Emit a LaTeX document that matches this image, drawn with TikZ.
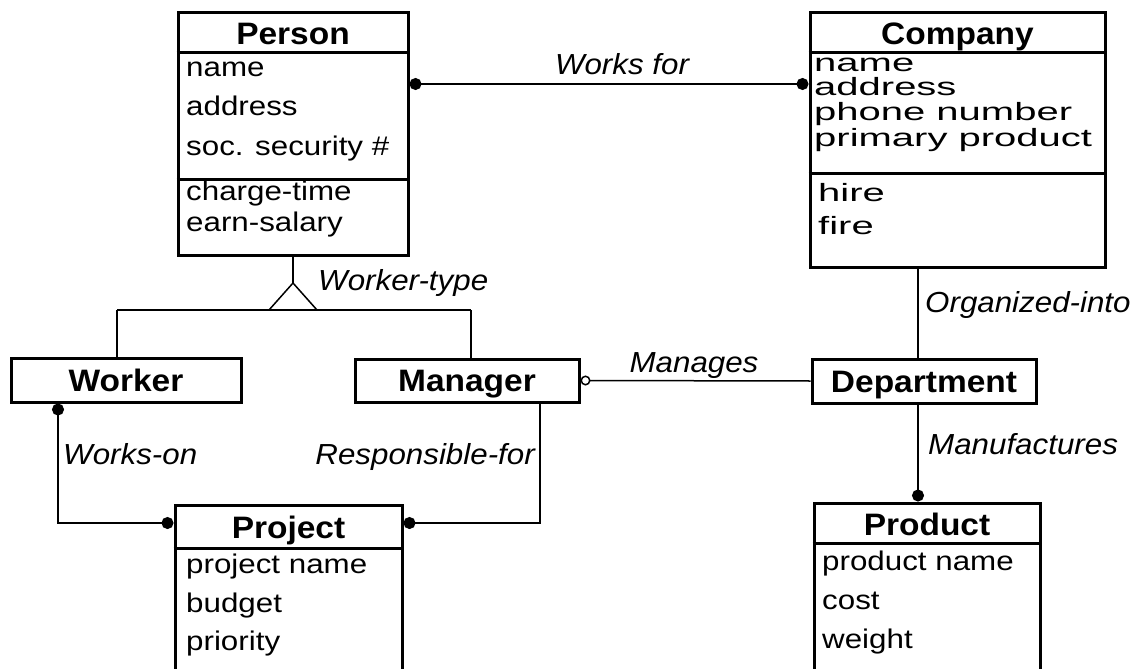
\documentclass[tikz,border=0pt]{standalone}
\usepackage{fontspec}
\setmainfont{Liberation Sans}
\newfontfamily\attrf{Liberation Sans}[FakeStretch=1.16]
\newfontfamily\lblf{Liberation Sans}[FakeStretch=1.08]
\newfontfamily\compf{Liberation Sans}[FakeStretch=1.6]
\usetikzlibrary{arrows.meta}
\tikzset{
  fdot/.tip={Circle[length=12pt, width=12pt]},
  odot/.tip={Circle[open, length=10pt, width=10pt]},
}
\begin{document}
\begin{tikzpicture}[x=1pt,y=-1pt,
  box/.style={draw, line width=3pt, inner sep=0pt},
  divline/.style={line width=3pt},
  titletxt/.style={font=\lblf\bfseries\fontsize{31}{36}\selectfont, anchor=base, inner sep=0pt},
  attr/.style={font=\attrf\fontsize{27}{32}\selectfont, anchor=mid west, inner sep=0pt},
  cattr/.style={font=\compf\fontsize{25}{28}\selectfont, anchor=mid west, inner sep=0pt},
  lbl/.style={font=\lblf\itshape\fontsize{29}{34}\selectfont, inner sep=0pt},
  conn/.style={line width=1.5pt},
]
\useasboundingbox (0,0) rectangle (1143,669);
\clip (0,0) rectangle (1143,669);
\fill[white] (0,0) rectangle (1143,669);

% ---------- boxes ----------
\node[box, minimum width=230pt, minimum height=242pt] (person) at (293,134) {};
\node[box, minimum width=295pt, minimum height=254pt] (company) at (957.5,140) {};
\node[box, minimum width=230pt, minimum height=44pt] (worker) at (126,380) {};
\node[box, minimum width=224pt, minimum height=43pt] (manager) at (467,380.5) {};
\node[box, minimum width=224pt, minimum height=44pt] (dept) at (924,381) {};
\node[box, minimum width=227pt, minimum height=195pt] (project) at (288.5,602.5) {};
\node[box, minimum width=226pt, minimum height=197pt] (product) at (927,601.5) {};

% ---------- dividers ----------
\coordinate (pd1) at (0,53);
\coordinate (pd2) at (0,179);
\coordinate (cd2) at (0,173);
\coordinate (jd1) at (0,548);
\coordinate (rd1) at (0,543);
\draw[divline] (person.west |- pd1) -- (person.east |- pd1);
\draw[divline] (person.west |- pd2) -- (person.east |- pd2);
\draw[divline] (company.west |- pd1) -- (company.east |- pd1);
\draw[divline] (company.west |- cd2) -- (company.east |- cd2);
\draw[divline] (project.west |- jd1) -- (project.east |- jd1);
\draw[divline] (product.west |- rd1) -- (product.east |- rd1);

% ---------- titles ----------
\node[titletxt] (tperson) at (293,45) {Person};
\node[titletxt] (tcompany) at (957.5,45) {Company};
\node[titletxt] (tworker) at (126,391) {Worker};
\node[titletxt] (tmanager) at (467,391) {Manager};
\node[titletxt] (tdept) at (924,392) {Department};
\node[titletxt] (tproject) at (288.5,538) {Project};
\node[titletxt] (tproduct) at (927,535) {Product};

% ---------- attributes ----------
\node[attr] (pa1) at (186,74) {name};
\node[attr] (pa2) at (186,113) {address};
\node[attr] (pa3) at (186,153) {soc. security \#};
\node[attr] (po1) at (186,198) {charge-time};
\node[attr] (po2) at (186,229) {earn-salary};

\node[cattr] (ca1) at (814,69) {name};
\node[cattr] (ca2) at (814,93) {address};
\node[cattr] (ca3) at (814,118) {phone number};
\node[cattr] (ca4) at (814,144) {primary product};
\node[cattr] (co1) at (818,199) {hire};
\node[cattr] (co2) at (818,232) {fire};

\node[attr] (ja1) at (186,571) {project name};
\node[attr] (ja2) at (186,610) {budget};
\node[attr] (ja3) at (186,648) {priority};

\node[attr] (ra1) at (822,568) {product name};
\node[attr] (ra2) at (822,607) {cost};
\node[attr] (ra3) at (822,646) {weight};

% ---------- connectors ----------
\coordinate (wf) at (0,84);
\draw[conn, fdot-fdot] (person.east |- wf) -- (company.west |- wf);
\node[lbl] (lwf) at (622,64) {Works for};

% generalization
\coordinate (apex) at (293,283);
\coordinate (tb1) at (269,310);
\coordinate (tb2) at (317,310);
\coordinate (hl) at (117,310);
\coordinate (hr) at (471,310);
\draw[conn] (person.south) -- (apex);
\draw[conn] (tb1) -- (apex) -- (tb2);
\draw[conn] (hl) -- (hr);
\draw[conn] (hl) -- (hl |- worker.north);
\draw[conn] (hr) -- (hr |- manager.north);
\node[lbl, anchor=mid west] (lwt) at (318,288) {Worker-type};

% organized into / manufactures
\coordinate (oi) at (918,0);
\draw[conn] (company.south -| oi) -- (dept.north -| oi);
\node[lbl, anchor=mid west] (loi) at (925,310) {Organized-into};
\draw[conn, -fdot] (dept.south -| oi) -- (product.north -| oi);
\node[lbl, anchor=mid west] (lmf) at (928,452) {Manufactures};

% manages
\draw[conn, odot-] (manager.east) -- (dept.west);
\node[lbl] (lmg) at (694,366) {Manages};

% works-on
\coordinate (wo) at (58,523);
\draw[conn, fdot-fdot] (worker.south -| wo) -- (wo) -- (project.west |- wo);
\node[lbl, anchor=mid west] (lwo) at (63,462) {Works-on};

% responsible-for
\coordinate (rf) at (540,523);
\draw[conn, -fdot] (manager.south -| rf) -- (rf) -- (project.east |- rf);
\node[lbl, anchor=mid east] (lrf) at (535,462) {Responsible-for};
\end{tikzpicture}
\end{document}
